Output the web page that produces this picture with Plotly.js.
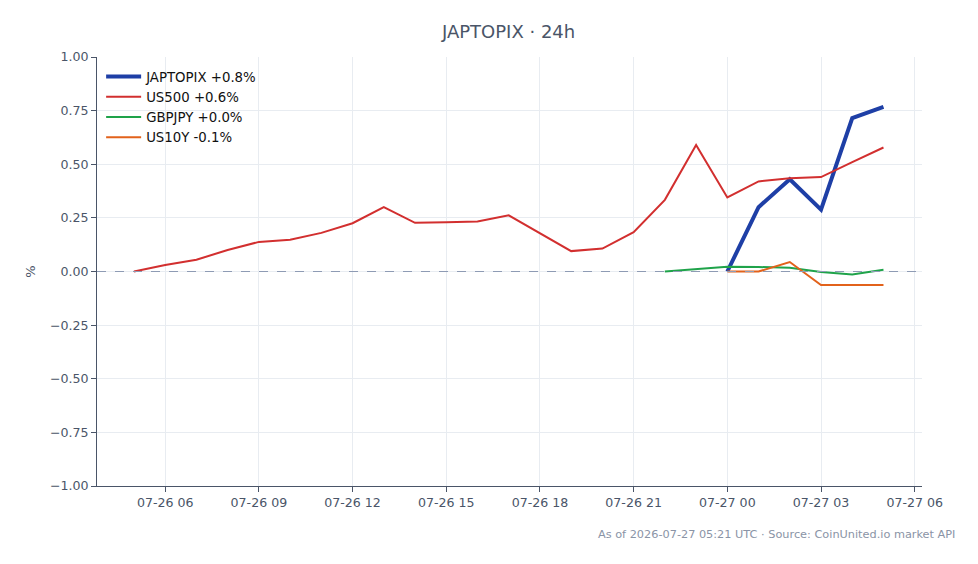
<!DOCTYPE html>
<html><head><meta charset="utf-8">
<script src="https://cdn.plot.ly/plotly-3.0.1.min.js"></script>
<style>html,body{margin:0;padding:0;background:#fff}#chart{width:978px;height:564px}</style>
</head><body><div id="chart"></div>
<script>
const us500Times = ["2026-07-26 05:00","2026-07-26 06:00","2026-07-26 07:00","2026-07-26 08:00","2026-07-26 09:00","2026-07-26 10:00","2026-07-26 11:00","2026-07-26 12:00","2026-07-26 13:00","2026-07-26 14:00","2026-07-26 15:00","2026-07-26 16:00","2026-07-26 17:00","2026-07-26 18:00","2026-07-26 19:00","2026-07-26 20:00","2026-07-26 21:00","2026-07-26 22:00","2026-07-26 23:00","2026-07-27 00:00","2026-07-27 01:00","2026-07-27 02:00","2026-07-27 03:00","2026-07-27 04:00","2026-07-27 05:00"];
const us500Values = [0.0,0.03,0.055,0.10,0.138,0.148,0.18,0.225,0.30,0.227,0.23,0.233,0.262,0.18,0.095,0.107,0.183,0.334,0.59,0.345,0.42,0.435,0.44,0.51,0.578];
const japTimes = ["2026-07-27 00:00","2026-07-27 01:00","2026-07-27 02:00","2026-07-27 03:00","2026-07-27 04:00","2026-07-27 05:00"];
const japValues = [0.0,0.30,0.43,0.288,0.715,0.767];
const gbpTimes = ["2026-07-26 22:00","2026-07-26 23:00","2026-07-27 00:00","2026-07-27 01:00","2026-07-27 02:00","2026-07-27 03:00","2026-07-27 04:00","2026-07-27 05:00"];
const gbpValues = [0.0,0.012,0.022,0.021,0.017,-0.002,-0.014,0.008];
const us10yTimes = ["2026-07-27 00:00","2026-07-27 01:00","2026-07-27 02:00","2026-07-27 03:00","2026-07-27 04:00","2026-07-27 05:00"];
const us10yValues = [0.0,0.0,0.044,-0.063,-0.063,-0.063];
const seriesNames = ["JAPTOPIX +0.8%","US500 +0.6%","GBPJPY +0.0%","US10Y -0.1%"];
const yTicks = [-1,-0.75,-0.5,-0.25,0,0.25,0.5,0.75,1];

const traces = [
  {x: japTimes, y: japValues, name: seriesNames[0], mode:"lines", line:{color:"#1e3fa6", width:4}},
  {x: us500Times, y: us500Values, name: seriesNames[1], mode:"lines", line:{color:"#d22f2f", width:2}},
  {x: gbpTimes, y: gbpValues, name: seriesNames[2], mode:"lines", line:{color:"#1fa34a", width:2}},
  {x: us10yTimes, y: us10yValues, name: seriesNames[3], mode:"lines", line:{color:"#e2621b", width:2}}
];
const layout = {
  width:978, height:564,
  margin:{l:97, r:56, t:57, b:78},
  paper_bgcolor:"#fff", plot_bgcolor:"#fff",
  font:{family:"DejaVu Sans", color:"#4a5568", size:12.6},
  title:{text:"JAPTOPIX · 24h", x:0.52, xanchor:"center", y:0.943, yanchor:"middle", font:{size:18, color:"#4a5568"}},
  xaxis:{type:"date", range:["2026-07-26 03:49","2026-07-27 06:14"], dtick:3*3600*1000, tick0:"2026-07-26 00:00",
    tickformat:"%m-%d %H", showgrid:true, gridcolor:"#e8ecf1", showline:true, linecolor:"#4a5568", linewidth:1,
    ticks:"outside", ticklen:5, tickcolor:"#4a5568", zeroline:false, tickfont:{size:12.6}},
  yaxis:{range:[-1,1], tickvals:yTicks, tickformat:".2f", showgrid:true, gridcolor:"#e8ecf1", showline:true,
    linecolor:"#4a5568", linewidth:1, ticks:"outside", ticklen:5, tickcolor:"#4a5568", zeroline:false,
    title:{text:"%", font:{size:13}, standoff:11}, tickfont:{size:12.6}},
  legend:{x:0.005, y:0.99, xanchor:"left", yanchor:"top", bgcolor:"rgba(255,255,255,0)", itemwidth:35,
    font:{size:13.3, color:"#111"}},
  shapes:[{type:"line", xref:"paper", x0:0, x1:1, yref:"y", y0:0, y1:0, line:{color:"#8e9bb4", width:1, dash:"dash"}}],
  annotations:[{text:"As of 2026-07-27 05:21 UTC · Source: CoinUnited.io market API", xref:"paper", yref:"paper",
    x:1.042, y:-0.094, xanchor:"right", yanchor:"top", showarrow:false, font:{size:11.3, color:"#8a94a6"}}]
};
Plotly.newPlot("chart", traces, layout, {displayModeBar:false});
</script></body></html>
